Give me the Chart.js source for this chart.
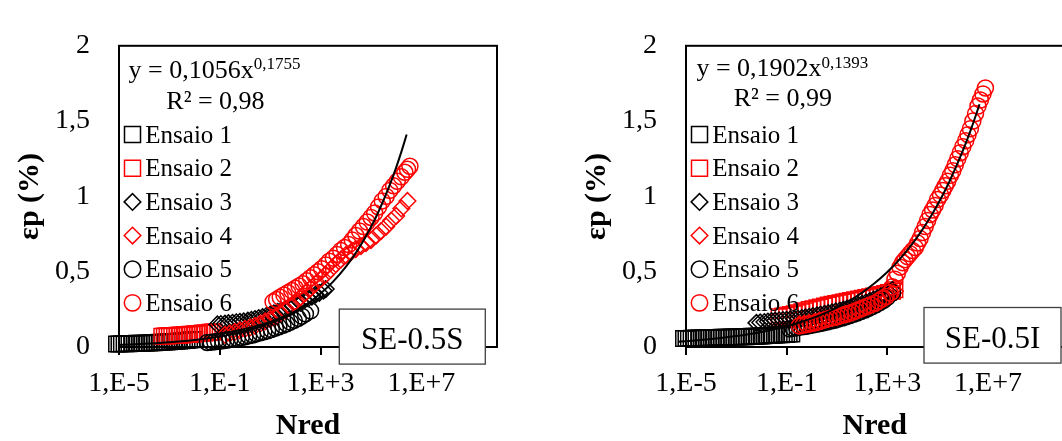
<!DOCTYPE html>
<html>
<head>
<meta charset="utf-8">
<title>εp x Nred</title>
<script src="https://cdn.jsdelivr.net/npm/chart.js@4.4.1/dist/chart.umd.min.js"></script>
<style>
  html, body { margin: 0; padding: 0; background: #fff; overflow: hidden; }
  #wrap { position: relative; width: 1062px; height: 441px; overflow: hidden; }
  #panelS { position: absolute; left: 0; top: 0; }
  #panelI { position: absolute; left: 531px; top: 0; }
</style>
</head>
<body>
<div id="wrap">
  <canvas id="panelS" width="531" height="441"></canvas>
  <canvas id="panelI" width="545" height="441"></canvas>
</div>
<script>
// ---- SE-0.5S : Nred / εp (%) per ensaio ----
const nS1 = [6e-6, 8e-6, 1e-5, 1.25e-5, 1.6e-5, 2e-5, 2.5e-5, 3.2e-5, 4e-5, 5e-5, 6.3e-5, 8e-5, 1e-4, 1.25e-4, 1.6e-4, 2e-4, 2.5e-4, 3.2e-4, 4e-4, 5e-4, 6.3e-4, 8e-4, 1e-3, 1.25e-3, 1.6e-3, 2e-3, 2.5e-3, 3.2e-3, 4e-3, 5e-3, 6.3e-3, 8e-3, 1e-2];
const epS1 = [0.02, 0.02, 0.02, 0.021, 0.021, 0.022, 0.022, 0.023, 0.023, 0.024, 0.024, 0.025, 0.025, 0.026, 0.027, 0.028, 0.029, 0.03, 0.031, 0.032, 0.033, 0.034, 0.035, 0.036, 0.037, 0.038, 0.04, 0.041, 0.043, 0.044, 0.046, 0.048, 0.05];
const nS2 = [5e-4, 6.3e-4, 8e-4, 1e-3, 1.25e-3, 1.6e-3, 2e-3, 2.5e-3, 3.2e-3, 4e-3, 5e-3, 6.3e-3, 8e-3, 1e-2, 1.25e-2, 1.6e-2, 2e-2, 2.5e-2, 3.2e-2, 4e-2, 5e-2, 6e-2];
const epS2 = [0.072, 0.073, 0.074, 0.075, 0.076, 0.077, 0.078, 0.079, 0.08, 0.082, 0.083, 0.084, 0.085, 0.087, 0.088, 0.09, 0.092, 0.093, 0.095, 0.097, 0.099, 0.1];
const nS3 = [8e-2, 1.1e-1, 1.6e-1, 2.2e-1, 3.2e-1, 4.5e-1, 6.3e-1, 8.9e-1, 1.3, 1.8, 2.5, 3.5, 5, 7.1, 10, 14, 20, 28, 40, 56, 79, 110, 160, 220, 320, 450, 630, 890, 1300, 1600];
const epS3 = [0.15, 0.152, 0.155, 0.158, 0.161, 0.164, 0.167, 0.17, 0.175, 0.18, 0.186, 0.192, 0.199, 0.207, 0.215, 0.224, 0.233, 0.242, 0.252, 0.262, 0.273, 0.285, 0.297, 0.309, 0.322, 0.335, 0.348, 0.36, 0.375, 0.385];
const nS4 = [1.6e-1, 2.5e-1, 4e-1, 6.3e-1, 1, 1.6, 2.5, 4, 6.3, 10, 16, 25, 40, 63, 100, 160, 250, 400, 630, 1000, 1600, 2500, 4000, 6300, 1e4, 1.6e4, 2.5e4, 4e4, 6.3e4, 1e5, 1.6e5, 2.5e5, 4e5, 6.3e5, 1e6, 1.6e6, 2.8e6];
const epS4 = [0.08, 0.09, 0.1, 0.11, 0.12, 0.13, 0.14, 0.155, 0.17, 0.185, 0.2, 0.22, 0.24, 0.27, 0.3, 0.33, 0.36, 0.39, 0.42, 0.45, 0.48, 0.515, 0.55, 0.58, 0.61, 0.63, 0.65, 0.67, 0.69, 0.71, 0.74, 0.77, 0.8, 0.84, 0.87, 0.92, 0.97];
const nS5 = [3.2e-2, 4.5e-2, 6.3e-2, 8.9e-2, 1.3e-1, 1.8e-1, 2.5e-1, 3.5e-1, 5e-1, 7.1e-1, 1, 1.4, 2, 2.8, 4, 5.6, 7.9, 11, 16, 22, 32, 45, 63, 89, 130, 180, 250, 400];
const epS5 = [0.03, 0.032, 0.035, 0.038, 0.041, 0.045, 0.049, 0.053, 0.058, 0.063, 0.068, 0.074, 0.08, 0.087, 0.094, 0.101, 0.108, 0.116, 0.125, 0.134, 0.144, 0.154, 0.165, 0.177, 0.19, 0.205, 0.22, 0.24];
const nS6 = [13, 18, 25, 35, 50, 71, 100, 140, 200, 280, 400, 560, 790, 1100, 1600, 2200, 3200, 4500, 6300, 8900, 1.3e4, 1.8e4, 2.5e4, 3.5e4, 5e4, 7.1e4, 1e5, 1.4e5, 2e5, 2.8e5, 4e5, 5.6e5, 7.9e5, 1.1e6, 1.6e6, 2.2e6, 2.8e6, 3.5e6];
const epS6 = [0.3, 0.315, 0.33, 0.345, 0.36, 0.375, 0.39, 0.405, 0.42, 0.44, 0.46, 0.48, 0.5, 0.52, 0.545, 0.57, 0.59, 0.615, 0.64, 0.66, 0.68, 0.71, 0.74, 0.77, 0.8, 0.83, 0.86, 0.89, 0.93, 0.97, 1.0, 1.04, 1.07, 1.1, 1.13, 1.16, 1.18, 1.2];

// ---- SE-0.5I ----
const nI1 = [5e-6, 6.3e-6, 8e-6, 1e-5, 1.25e-5, 1.6e-5, 2e-5, 2.5e-5, 3.2e-5, 4e-5, 5e-5, 6.3e-5, 8e-5, 1e-4, 1.25e-4, 1.6e-4, 2e-4, 2.5e-4, 3.2e-4, 4e-4, 5e-4, 6.3e-4, 8e-4, 1e-3, 1.25e-3, 1.6e-3, 2e-3, 2.5e-3, 3.2e-3, 4e-3, 5e-3, 6.3e-3, 8e-3, 1e-2, 1.25e-2, 1.6e-2, 2e-2, 2.5e-2, 3.2e-2, 4e-2, 5e-2, 6.3e-2, 8e-2, 1e-1, 1.25e-1, 1.6e-1];
const epI1 = [0.055, 0.056, 0.056, 0.057, 0.057, 0.058, 0.058, 0.059, 0.059, 0.06, 0.06, 0.061, 0.061, 0.062, 0.062, 0.063, 0.063, 0.064, 0.064, 0.065, 0.065, 0.066, 0.066, 0.067, 0.067, 0.068, 0.069, 0.069, 0.07, 0.071, 0.071, 0.072, 0.073, 0.074, 0.075, 0.076, 0.077, 0.078, 0.079, 0.08, 0.081, 0.082, 0.083, 0.084, 0.086, 0.087];
const nI2 = [5e-2, 7.1e-2, 1e-1, 1.4e-1, 2e-1, 2.8e-1, 4e-1, 5.6e-1, 7.9e-1, 1.1, 1.6, 2.2, 3.2, 4.5, 6.3, 8.9, 13, 18, 25, 35, 50, 71, 100, 140, 200, 280, 400, 560, 790, 1100, 1600, 2000];
const epI2 = [0.2, 0.205, 0.21, 0.215, 0.22, 0.227, 0.234, 0.241, 0.248, 0.254, 0.26, 0.266, 0.272, 0.278, 0.283, 0.288, 0.293, 0.298, 0.303, 0.308, 0.313, 0.318, 0.323, 0.328, 0.333, 0.338, 0.343, 0.349, 0.355, 0.362, 0.37, 0.38];
const nI3 = [6.3e-3, 8.9e-3, 1.3e-2, 1.8e-2, 2.5e-2, 3.5e-2, 5e-2, 7.1e-2, 1e-1, 1.4e-1, 2e-1, 2.8e-1, 4e-1, 5.6e-1, 7.9e-1, 1.1, 1.6, 2.2, 3.2, 4.5, 6.3, 8.9, 13, 18, 25, 35, 50, 71, 100, 140, 200, 280, 400, 560, 790, 1100, 1600];
const epI3 = [0.16, 0.163, 0.166, 0.169, 0.172, 0.175, 0.177, 0.179, 0.181, 0.183, 0.186, 0.189, 0.192, 0.196, 0.2, 0.205, 0.21, 0.215, 0.22, 0.225, 0.23, 0.236, 0.242, 0.248, 0.255, 0.262, 0.27, 0.278, 0.286, 0.295, 0.305, 0.315, 0.325, 0.337, 0.35, 0.365, 0.38];
const nI4 = [3.2e-1, 5e-1, 7.9e-1, 1.3, 2, 3.2, 5, 7.9, 13, 20, 32, 50, 79, 130, 200, 320, 500, 790, 1300, 2000];
const epI4 = [0.15, 0.155, 0.16, 0.167, 0.174, 0.181, 0.188, 0.196, 0.204, 0.213, 0.222, 0.232, 0.243, 0.255, 0.268, 0.282, 0.3, 0.32, 0.345, 0.37];
const nI5 = [1.3e-1, 1.8e-1, 2.5e-1, 3.5e-1, 5e-1, 7.1e-1, 1, 1.4, 2, 2.8, 4, 5.6, 7.9, 11, 16, 22, 32, 45, 63, 89, 130, 180, 250, 350, 500, 710, 1000, 1600];
const epI5 = [0.12, 0.124, 0.128, 0.132, 0.136, 0.14, 0.145, 0.15, 0.155, 0.16, 0.166, 0.172, 0.178, 0.185, 0.192, 0.2, 0.208, 0.217, 0.226, 0.236, 0.246, 0.257, 0.268, 0.28, 0.295, 0.31, 0.33, 0.36];
const nI6 = [3.2e-1, 4.5e-1, 6.3e-1, 8.9e-1, 1.3, 1.8, 2.5, 3.5, 5, 7.1, 10, 14, 20, 28, 40, 56, 79, 110, 160, 220, 320, 450, 630, 890,
    1300, 1600, 2000, 2500, 3200, 4000, 5000, 6300, 7900, 1e4, 1.3e4, 1.6e4, 2e4, 2.5e4, 3.2e4, 4e4, 5e4, 6.3e4, 7.9e4,
    1e5, 1.3e5, 1.6e5, 2e5, 2.5e5, 3.2e5, 4e5, 5e5, 6.3e5, 7.9e5, 1e6, 1.3e6, 1.6e6, 2e6, 2.5e6, 3.2e6, 4e6, 5e6, 6.3e6, 7.9e6];
const epI6 = [0.14, 0.145, 0.15, 0.155, 0.16, 0.167, 0.175, 0.182, 0.19, 0.195, 0.2, 0.208, 0.215, 0.222, 0.23, 0.24, 0.25, 0.26, 0.27, 0.28, 0.29, 0.305, 0.32, 0.335,
    0.36, 0.4, 0.45, 0.49, 0.53, 0.56, 0.58, 0.6, 0.62, 0.64, 0.66, 0.69, 0.72, 0.76, 0.8, 0.84, 0.88, 0.91, 0.94,
    0.98, 1.01, 1.04, 1.07, 1.1, 1.14, 1.17, 1.21, 1.25, 1.29, 1.33, 1.37, 1.41, 1.45, 1.5, 1.55, 1.6, 1.64, 1.68, 1.72];

// power trendlines y = a·x^b as printed on the chart
const fitS = [0.1056, 0.1755];
const r2S = 0.98;
const fitI = [0.1902, 0.1393];
const r2I = 0.99;
const trendNS = [1e-5, 3e-5, 1e-4, 3e-4, 1e-3, 3e-3, 1e-2, 3e-2, 1e-1, 3e-1, 1, 3, 10, 30, 100, 300, 1e3, 3e3, 1e4, 3e4, 1e5, 2e5, 5e5, 1e6, 1.6e6, 2.6e6];
const trendNI = [5e-6, 1e-5, 3e-5, 1e-4, 3e-4, 1e-3, 3e-3, 1e-2, 3e-2, 1e-1, 3e-1, 1, 3, 10, 30, 100, 300, 1e3, 3e3, 1e4, 3e4, 1e5, 3e5, 1e6, 2e6, 3e6, 4.6e6];

const seriesNames = ['Ensaio 1', 'Ensaio 2', 'Ensaio 3', 'Ensaio 4', 'Ensaio 5', 'Ensaio 6'];
const xTickValues = [1e-5, 1e-1, 1e3, 1e7];
const xTickLabels = ['1,E-5', '1,E-1', '1,E+3', '1,E+7'];
const yTickValues = [0, 0.5, 1, 1.5, 2];
const yTickLabels = ['0', '0,5', '1', '1,5', '2'];

const seriesColors = ['#000000', '#ff0000', '#000000', '#ff0000', '#000000', '#ff0000'];
const seriesShapes = ['rect', 'rect', 'rectRot', 'rectRot', 'circle', 'circle'];
const markerRadius = { rect: 11, rectRot: 8.3, circle: 8 };
const SERIF = "'Liberation Serif', 'Times New Roman', serif";

Chart.defaults.font.family = SERIF;
Chart.defaults.color = '#000';

const comma = v => String(v).replace('.', ',');

function drawMarker(ctx, shape, x, y, color) {
    ctx.save();
    ctx.strokeStyle = color;
    ctx.lineWidth = 1.5;
    ctx.beginPath();
    if (shape === 'rect') {
        ctx.rect(x - 8, y - 8, 16, 16);
    } else if (shape === 'rectRot') {
        ctx.moveTo(x - 8.3, y);
        ctx.lineTo(x, y - 8.3);
        ctx.lineTo(x + 8.3, y);
        ctx.lineTo(x, y + 8.3);
        ctx.closePath();
    } else {
        ctx.arc(x, y, 8.2, 0, Math.PI * 2);
    }
    ctx.stroke();
    ctx.restore();
}

// frame, equation, legend and sample label drawn inside the plot area
const panelDecor = {
    id: 'panelDecor',
    beforeDatasetsDraw(chart) {
        const { ctx, chartArea: a } = chart;
        ctx.save();
        ctx.strokeStyle = '#000';
        ctx.lineWidth = 2;
        ctx.strokeRect(a.left, a.top, a.right - a.left, a.bottom - a.top);
        ctx.restore();
    },
    afterDraw(chart, args, o) {
        const { ctx, chartArea: a } = chart;
        ctx.save();
        ctx.fillStyle = '#000';
        ctx.textAlign = 'left';
        ctx.textBaseline = 'alphabetic';

        ctx.font = '26px ' + SERIF;
        const eq = 'y = ' + comma(o.fit[0]) + 'x';
        ctx.fillText(eq, a.left + o.eqX, a.top + o.eqY);
        const w = ctx.measureText(eq).width;
        ctx.font = '17px ' + SERIF;
        ctx.fillText(comma(o.fit[1]), a.left + o.eqX + w, a.top + o.supY);
        ctx.font = '26px ' + SERIF;
        ctx.fillText('R² = ' + comma(o.r2), a.left + o.r2X, a.top + o.r2Y);

        ctx.font = '25px ' + SERIF;
        seriesNames.forEach((name, i) => {
            const cy = a.top + 88.8 + i * 33.65;
            drawMarker(ctx, seriesShapes[i], a.left + 13.5, cy, seriesColors[i]);
            ctx.fillStyle = '#000';
            ctx.fillText(name, a.left + 26.3, cy + 8);
        });

        const [bx, by, bw, bh] = o.box;
        ctx.fillStyle = '#fff';
        ctx.fillRect(a.left + bx, a.top + by, bw, bh);
        ctx.strokeStyle = '#404040';
        ctx.lineWidth = 1.3;
        ctx.strokeRect(a.left + bx, a.top + by, bw, bh);
        ctx.fillStyle = '#000';
        ctx.font = '31px ' + SERIF;
        ctx.textAlign = 'center';
        ctx.fillText(o.label, a.left + bx + bw / 2, a.top + o.labelY);
        ctx.restore();
    }
};

function buildDatasets(nLists, epLists, trendN, fit) {
    const sets = nLists.map((ns, i) => ({
        label: seriesNames[i],
        data: ns.map((n, j) => ({ x: n, y: epLists[i][j] })),
        pointStyle: seriesShapes[i],
        pointRadius: markerRadius[seriesShapes[i]],
        pointHoverRadius: markerRadius[seriesShapes[i]],
        pointBorderWidth: 1.5,
        pointBorderColor: seriesColors[i],
        pointBackgroundColor: 'rgba(0,0,0,0)',
        showLine: false,
        order: 6 - i,
        clip: false
    }));
    sets.push({
        label: 'Potência',
        data: trendN.map(n => ({ x: n, y: fit[0] * Math.pow(n, fit[1]) })),
        showLine: true,
        borderColor: '#000',
        borderWidth: 2,
        pointRadius: 0,
        cubicInterpolationMode: 'monotone',
        order: 0,
        clip: false
    });
    return sets;
}

function makePanel(canvasId, datasets, padLeft, padRight, decor) {
    return new Chart(document.getElementById(canvasId), {
        type: 'scatter',
        data: { datasets },
        plugins: [panelDecor],
        options: {
            responsive: false,
            animation: false,
            layout: { padding: { left: padLeft, right: padRight, top: 25, bottom: 0 } },
            plugins: {
                legend: { display: false },
                tooltip: { enabled: false },
                panelDecor: decor
            },
            scales: {
                x: {
                    type: 'logarithmic',
                    min: 1e-5,
                    max: 1e10,
                    afterBuildTicks: s => { s.ticks = xTickValues.map(v => ({ value: v })); },
                    afterFit: s => { s.height = 94; },
                    ticks: {
                        autoSkip: false,
                        maxRotation: 0,
                        padding: 12,
                        font: { size: 28 },
                        color: '#000',
                        callback: (v, i) => xTickLabels[i]
                    },
                    grid: { drawOnChartArea: false, drawTicks: true, tickLength: 8, color: '#000', lineWidth: 2 },
                    border: { display: false },
                    title: {
                        display: true,
                        text: 'Nred',
                        color: '#000',
                        font: { size: 30, weight: 'bold', lineHeight: 1 },
                        padding: { top: 0, bottom: 0 }
                    }
                },
                y: {
                    min: 0,
                    max: 2,
                    afterBuildTicks: s => { s.ticks = yTickValues.map(v => ({ value: v })); },
                    afterFit: s => { s.width = 119; },
                    ticks: {
                        padding: 29,
                        font: { size: 28 },
                        color: '#000',
                        callback: (v, i) => yTickLabels[i]
                    },
                    grid: { display: false, drawTicks: false },
                    border: { display: false },
                    title: {
                        display: true,
                        text: 'εp (%)',
                        color: '#000',
                        font: { size: 30, weight: 'bold', lineHeight: 1 },
                        padding: { top: 15, bottom: 0 }
                    }
                }
            }
        }
    });
}

makePanel('panelS',
    buildDatasets([nS1, nS2, nS3, nS4, nS5, nS6], [epS1, epS2, epS3, epS4, epS5, epS6], trendNS, fitS),
    0, 34,
    { fit: fitS, r2: r2S, label: 'SE-0.5S', eqX: 9.6, eqY: 32.3, supY: 23.3, r2X: 47.3, r2Y: 63.3, box: [220.3, 263.3, 146, 55], labelY: 303.3 });

makePanel('panelI',
    buildDatasets([nI1, nI2, nI3, nI4, nI5, nI6], [epI1, epI2, epI3, epI4, epI5, epI6], trendNI, fitI),
    36, 11,
    { fit: fitI, r2: r2I, label: 'SE-0.5I', eqX: 10.4, eqY: 30, supY: 21.7, r2X: 47.7, r2Y: 60, box: [238, 261.7, 137, 55.6], labelY: 302.3 });
</script>
</body>
</html>
